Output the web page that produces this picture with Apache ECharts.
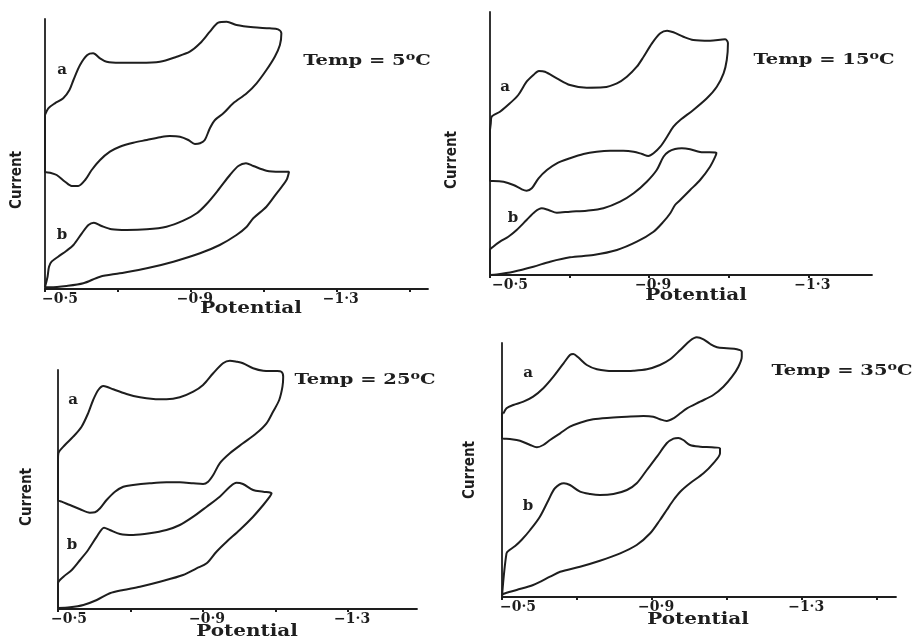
<!DOCTYPE html>
<html>
<head>
<meta charset="utf-8">
<script src="https://cdn.jsdelivr.net/npm/echarts@6/dist/echarts.min.js"></script>
<style>
  html, body { margin: 0; padding: 0; background: #ffffff; }
  #chart { width: 917px; height: 639px; }
</style>
</head>
<body>
<div id="chart"></div>
<script>
// Cyclic voltammograms (current vs potential, V) of solutions a and b at four temperatures.

const temps = ['5', '15', '25', '35'];
const potentialTicks = [-0.5, -0.7, -0.9, -1.1, -1.3, -1.5];
const labeledPotentials = [-0.5, -0.9, -1.3];
const tickLabels = ['−0·5', '−0·9', '−1·3'];

// [potential (V), current (arbitrary units)]
const loopA5 = [
  [-0.500,17.40],[-0.509,18.07],[-0.527,18.57],[-0.550,19.07],[-0.567,19.90],[-0.578,20.90],[-0.596,22.40],[-0.616,23.40],
  [-0.632,23.57],[-0.651,23.07],[-0.669,22.73],[-0.705,22.63],[-0.760,22.63],[-0.815,22.73],[-0.861,23.23],[-0.897,23.73],
  [-0.925,24.57],[-0.952,25.73],[-0.975,26.63],[-0.998,26.73],[-1.025,26.40],[-1.071,26.17],[-1.116,26.07],[-1.139,25.97],
  [-1.148,25.57],[-1.144,24.40],[-1.130,23.23],[-1.107,21.90],[-1.080,20.57],[-1.053,19.57],[-1.016,18.57],[-0.989,17.57],
  [-0.966,16.90],[-0.952,16.07],[-0.938,14.90],[-0.925,14.57],[-0.911,14.50],[-0.893,14.90],[-0.870,15.23],[-0.842,15.30],
  [-0.815,15.17],[-0.779,14.90],[-0.742,14.63],[-0.705,14.23],[-0.678,13.73],[-0.651,12.90],[-0.628,11.90],[-0.610,10.90],
  [-0.591,10.30],[-0.573,10.30],[-0.555,10.73],[-0.532,11.40],[-0.514,11.63],[-0.500,11.73],[-0.500,17.40]
];
const loopB5 = [
  [-0.500,0.20],[-0.507,1.23],[-0.511,2.23],[-0.518,2.73],[-0.536,3.23],[-0.559,3.83],[-0.578,4.40],[-0.601,5.57],
  [-0.619,6.40],[-0.634,6.63],[-0.655,6.30],[-0.683,5.97],[-0.724,5.90],[-0.779,5.97],[-0.833,6.23],[-0.879,6.83],
  [-0.916,7.57],[-0.943,8.50],[-0.975,9.90],[-1.007,11.40],[-1.030,12.30],[-1.051,12.57],[-1.071,12.30],[-1.107,11.83],
  [-1.144,11.73],[-1.169,11.73],[-1.162,10.90],[-1.135,9.57],[-1.107,8.23],[-1.071,7.07],[-1.053,6.23],[-1.025,5.40],
  [-0.979,4.40],[-0.925,3.57],[-0.852,2.73],[-0.779,2.07],[-0.705,1.57],[-0.651,1.23],[-0.605,0.57],[-0.559,0.30],
  [-0.514,0.17],[-0.500,0.20]
];
const loopA15 = [
  [-0.500,14.50],[-0.502,15.17],[-0.504,15.83],[-0.525,16.33],[-0.550,17.17],[-0.571,18.00],[-0.592,19.33],[-0.609,20.00],
  [-0.623,20.40],[-0.638,20.33],[-0.668,19.67],[-0.701,19.00],[-0.743,18.73],[-0.785,18.77],[-0.819,19.17],[-0.844,19.83],
  [-0.869,20.83],[-0.886,21.83],[-0.907,23.17],[-0.928,24.17],[-0.945,24.43],[-0.961,24.27],[-0.986,23.83],[-1.011,23.50],
  [-1.053,23.43],[-1.091,23.57],[-1.098,23.17],[-1.095,21.50],[-1.087,20.17],[-1.070,18.83],[-1.045,17.67],[-1.011,16.50],
  [-0.978,15.50],[-0.961,14.83],[-0.945,13.83],[-0.928,12.83],[-0.911,12.17],[-0.898,11.90],[-0.882,12.10],[-0.861,12.33],
  [-0.835,12.43],[-0.802,12.43],[-0.768,12.33],[-0.735,12.10],[-0.701,11.67],[-0.668,11.17],[-0.643,10.50],[-0.622,9.67],
  [-0.605,8.67],[-0.592,8.43],[-0.580,8.57],[-0.559,9.00],[-0.534,9.33],[-0.508,9.40],[-0.500,9.40],[-0.500,14.50]
];
const loopB15 = [
  [-0.500,0.00],[-0.500,2.50],[-0.508,2.83],[-0.525,3.33],[-0.546,3.83],[-0.567,4.50],[-0.592,5.50],[-0.613,6.33],
  [-0.630,6.67],[-0.647,6.50],[-0.668,6.23],[-0.701,6.33],[-0.743,6.43],[-0.785,6.67],[-0.827,7.33],[-0.861,8.17],
  [-0.894,9.33],[-0.919,10.50],[-0.936,11.83],[-0.949,12.33],[-0.965,12.60],[-0.982,12.67],[-1.003,12.57],[-1.028,12.30],
  [-1.069,12.23],[-1.066,11.83],[-1.053,10.83],[-1.028,9.50],[-1.003,8.50],[-0.978,7.50],[-0.965,7.00],[-0.953,6.17],
  [-0.936,5.33],[-0.911,4.33],[-0.869,3.33],[-0.819,2.50],[-0.760,2.00],[-0.701,1.77],[-0.651,1.33],[-0.609,0.83],
  [-0.559,0.33],[-0.517,0.05],[-0.500,0.00]
];
const loopA25 = [
  [-0.500,14.90],[-0.500,10.90],[-0.510,10.73],[-0.533,10.40],[-0.561,9.97],[-0.588,9.63],[-0.602,9.67],[-0.616,10.07],
  [-0.634,10.90],[-0.657,11.73],[-0.680,12.23],[-0.707,12.40],[-0.753,12.57],[-0.799,12.67],[-0.836,12.67],[-0.873,12.57],
  [-0.900,12.50],[-0.914,12.73],[-0.928,13.40],[-0.946,14.57],[-0.974,15.57],[-1.010,16.57],[-1.047,17.57],[-1.075,18.57],
  [-1.093,19.73],[-1.110,20.90],[-1.119,22.23],[-1.121,23.23],[-1.116,23.73],[-1.102,23.80],[-1.066,23.83],[-1.038,24.07],
  [-1.010,24.57],[-0.992,24.73],[-0.974,24.83],[-0.955,24.57],[-0.928,23.57],[-0.900,22.40],[-0.873,21.73],[-0.836,21.17],
  [-0.799,20.97],[-0.763,21.00],[-0.726,21.17],[-0.689,21.50],[-0.652,21.97],[-0.634,22.23],[-0.625,22.30],[-0.611,21.90],
  [-0.597,20.90],[-0.583,19.57],[-0.565,18.23],[-0.542,17.23],[-0.519,16.40],[-0.501,15.57],[-0.500,14.90]
];
const loopB25 = [
  [-0.500,0.10],[-0.500,2.57],[-0.515,3.23],[-0.538,3.90],[-0.561,4.90],[-0.583,5.90],[-0.607,7.23],[-0.627,8.13],
  [-0.643,7.90],[-0.671,7.50],[-0.707,7.40],[-0.753,7.57],[-0.799,7.90],[-0.836,8.40],[-0.873,9.23],[-0.910,10.23],
  [-0.946,11.23],[-0.974,12.23],[-0.992,12.63],[-1.010,12.50],[-1.038,11.90],[-1.066,11.73],[-1.089,11.57],[-1.084,11.23],
  [-1.066,10.40],[-1.038,9.23],[-1.001,7.90],[-0.965,6.73],[-0.937,5.73],[-0.910,4.57],[-0.882,4.07],[-0.845,3.40],
  [-0.781,2.73],[-0.726,2.23],[-0.680,1.90],[-0.643,1.57],[-0.607,0.90],[-0.570,0.40],[-0.533,0.17],[-0.500,0.10]
];
const loopA35 = [
  [-0.504,18.37],[-0.512,18.87],[-0.530,19.20],[-0.557,19.53],[-0.583,20.03],[-0.610,20.87],[-0.637,22.03],[-0.664,23.37],
  [-0.681,24.20],[-0.690,24.30],[-0.703,23.97],[-0.726,23.20],[-0.753,22.77],[-0.779,22.63],[-0.815,22.60],[-0.850,22.63],
  [-0.886,22.77],[-0.921,23.20],[-0.948,23.77],[-0.975,24.70],[-1.001,25.63],[-1.019,25.97],[-1.037,25.77],[-1.055,25.30],
  [-1.073,24.97],[-1.099,24.87],[-1.126,24.77],[-1.139,24.53],[-1.139,24.03],[-1.130,23.03],[-1.113,22.03],[-1.090,21.03],
  [-1.063,20.20],[-1.028,19.53],[-0.993,18.87],[-0.975,18.37],[-0.957,17.87],[-0.939,17.60],[-0.921,17.77],[-0.903,18.03],
  [-0.877,18.10],[-0.833,18.03],[-0.788,17.93],[-0.743,17.77],[-0.708,17.43],[-0.681,17.03],[-0.655,16.37],[-0.628,15.70],
  [-0.610,15.20],[-0.593,14.97],[-0.575,15.20],[-0.548,15.63],[-0.521,15.80],[-0.500,15.87],[-0.500,18.37],[-0.504,18.37]
];
const loopB35 = [
  [-0.500,0.10],[-0.512,4.37],[-0.520,4.70],[-0.535,5.10],[-0.552,5.70],[-0.575,6.70],[-0.601,8.03],[-0.624,9.70],
  [-0.641,10.87],[-0.665,11.37],[-0.681,11.20],[-0.708,10.53],[-0.735,10.30],[-0.761,10.20],[-0.797,10.30],[-0.833,10.70],
  [-0.859,11.37],[-0.886,12.70],[-0.913,14.03],[-0.939,15.37],[-0.957,15.83],[-0.970,15.90],[-0.983,15.70],[-1.001,15.20],
  [-1.028,15.03],[-1.059,14.97],[-1.081,14.87],[-1.081,14.37],[-1.063,13.37],[-1.037,12.37],[-1.001,11.37],[-0.975,10.53],
  [-0.957,9.70],[-0.939,8.70],[-0.921,7.70],[-0.895,6.37],[-0.859,5.20],[-0.815,4.37],[-0.761,3.63],[-0.708,3.03],
  [-0.655,2.53],[-0.628,2.03],[-0.583,1.20],[-0.539,0.70],[-0.503,0.30],[-0.500,0.10]
];

const loopsByPanel = [[loopA5, loopB5], [loopA15, loopB15], [loopA25, loopB25], [loopA35, loopB35]];
const curveNames = ['a', 'b'];

// Panel layout (pixels) and axis extents
const layout = [
  { grid: { left: 45,  top: 19,  width: 383, height: 270 }, xMin: -1.55, yMax: 27.0, firstShift: 15,
    temp: [367, 61], current: [17, 180], potential: [251, 309], labelA: [62, 70],  labelB: [62, 235] },
  { grid: { left: 490, top: 12,  width: 382, height: 263 }, xMin: -1.46, yMax: 26.3, firstShift: 20,
    temp: [824, 60], current: [452, 160], potential: [696, 296], labelA: [505, 87], labelB: [513, 218] },
  { grid: { left: 58,  top: 370, width: 359, height: 239 }, xMin: -1.49, yMax: 23.9, firstShift: 11,
    temp: [365, 380], current: [27, 497], potential: [247, 632], labelA: [73, 400], labelB: [72, 545] },
  { grid: { left: 502, top: 343, width: 394, height: 254 }, xMin: -1.55, yMax: 25.4, firstShift: 16,
    temp: [842, 371], current: [470, 470], potential: [698, 620], labelA: [528, 373], labelB: [528, 506] }
];

const INK = '#1e1e1e';
const SERIF = "'DejaVu Serif', 'Liberation Serif', serif";
const SANS_NARROW = "'Liberation Sans Narrow', 'DejaVu Sans Condensed', 'Liberation Sans', sans-serif";

const grids = [], xAxes = [], yAxes = [], series = [], graphics = [];

layout.forEach((p, i) => {
  grids.push(Object.assign({ containLabel: false }, p.grid));

  const labelFont = { fontFamily: SERIF, fontSize: 14, fontWeight: 'bold', color: INK };
  xAxes.push({
    gridIndex: i, type: 'value', inverse: true, min: p.xMin, max: -0.5,
    axisLine: { show: true, lineStyle: { color: INK, width: 1.8 } },
    axisTick: { show: true, customValues: potentialTicks, length: 3, lineStyle: { color: INK, width: 2 } },
    axisLabel: {
      show: true, customValues: labeledPotentials, margin: 3,
      formatter: (v) => {
        const k = labeledPotentials.findIndex(t => Math.abs(t - v) < 1e-6);
        return k === 0 ? '{first|' + tickLabels[k] + '}' : '{rest|' + tickLabels[k] + '}';
      },
      rich: {
        first: Object.assign({ padding: [0, 0, 0, 2 * p.firstShift] }, labelFont),
        rest: Object.assign({ padding: [0, 0, 0, 8] }, labelFont)
      }
    },
    splitLine: { show: false }
  });
  yAxes.push({
    gridIndex: i, type: 'value', min: 0, max: p.yMax,
    axisLine: { show: true, onZero: false, lineStyle: { color: INK, width: 1.8 } },
    axisTick: { show: false }, axisLabel: { show: false }, splitLine: { show: false }
  });

  loopsByPanel[i].forEach((loop, j) => {
    series.push({
      name: curveNames[j] + ' ' + temps[i], type: 'line', xAxisIndex: i, yAxisIndex: i,
      data: loop, showSymbol: false, smooth: 0.3, clip: false, silent: true,
      lineStyle: { color: INK, width: 2 }
    });
  });

  graphics.push({
    type: 'text', x: p.temp[0], y: p.temp[1], scaleX: 1.3,
    style: {
      text: 'Temp = ' + temps[i] + '{sup|o}C',
      fontFamily: SERIF, fontSize: 15, fontWeight: 'bold', fill: INK,
      align: 'center', verticalAlign: 'middle',
      rich: { sup: { fontFamily: SERIF, fontSize: 11, fontWeight: 'bold', fill: INK,
                     verticalAlign: 'bottom', padding: [0, 0, 8, 0] } }
    }
  });
  graphics.push({
    type: 'text', x: p.current[0], y: p.current[1], rotation: Math.PI / 2,
    style: { text: 'Current', fontFamily: SANS_NARROW, fontSize: 15, fontWeight: 'bold', fill: INK,
             align: 'center', verticalAlign: 'middle' }
  });
  graphics.push({
    type: 'text', x: p.potential[0], y: p.potential[1], scaleX: 1.25,
    style: { text: 'Potential', fontFamily: SERIF, fontSize: 16, fontWeight: 'bold', fill: INK,
             align: 'center', verticalAlign: 'middle' }
  });
  [p.labelA, p.labelB].forEach((pos, j) => {
    graphics.push({
      type: 'text', x: pos[0], y: pos[1],
      style: { text: curveNames[j], fontFamily: SERIF, fontSize: 15, fontWeight: 'bold', fill: INK,
               align: 'center', verticalAlign: 'middle' }
    });
  });
});

const chart = echarts.init(document.getElementById('chart'), null, { renderer: 'canvas' });
chart.setOption({
  backgroundColor: '#ffffff',
  animation: false,
  grid: grids,
  xAxis: xAxes,
  yAxis: yAxes,
  series: series,
  graphic: graphics
});
</script>
</body>
</html>
